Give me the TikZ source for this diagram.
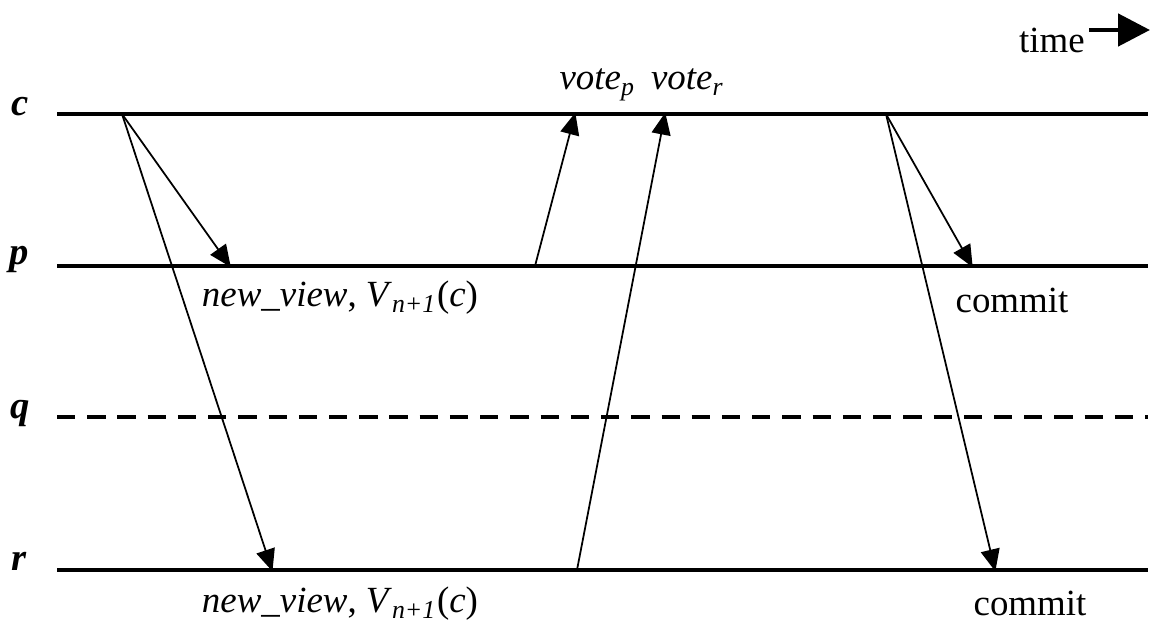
\documentclass[tikz,border=0pt]{standalone}
\usepackage{fontspec}
\setmainfont{Liberation Serif}
\usetikzlibrary{arrows.meta, positioning, calc}

\begin{document}
\begin{tikzpicture}[
    every node/.style={font=\fontsize{10.5}{12}\selectfont},
    procline/.style={line width=1.3pt},
    msg/.style={-{Triangle[length=2.2mm, width=1.9mm]}, line width=0.5pt, shorten >=-0.4pt},
    proclabel/.style={font=\fontsize{11}{13}\selectfont\bfseries\itshape, anchor=base}
  ]
    \useasboundingbox (0,0) rectangle (11.51,-6.21);

    % Process lines
    \foreach \n/\y in {c/1.14, p/2.66, r/5.70} {
      \coordinate (\n west) at (0.57,-\y);
      \coordinate (\n east) at (11.48,-\y);
      \draw[procline] (\n west) -- (\n east);
    }
    \coordinate (q west) at (0.57,-4.17);
    \coordinate (q east) at (11.48,-4.17);
    \draw[procline, dash pattern=on 5.2pt off 3.4pt] (q west) -- (q east);

    % Process names
    \node[proclabel] (lc) at (0.20,-1.16) {c};
    \node[proclabel] (lp) at (0.19,-2.65) {p};
    \node[proclabel] (lq) at (0.20,-4.19) {q};
    \node[proclabel] (lr) at (0.19,-5.71) {r};

    % Message end points
    \coordinate (c send) at (1.22,-1.14);
    \coordinate (p view) at (2.30,-2.66);
    \coordinate (r view) at (2.72,-5.70);
    \coordinate (p vote) at (5.35,-2.66);
    \coordinate (r vote) at (5.77,-5.70);
    \coordinate (c votep) at (5.75,-1.14);
    \coordinate (c voter) at (6.65,-1.14);
    \coordinate (c commit) at (8.86,-1.14);
    \coordinate (p commit) at (9.72,-2.66);
    \coordinate (r commit) at (9.95,-5.70);

    % new_view messages
    \draw[msg] (c send) -- (p view);
    \draw[msg] (c send) -- (r view);

    % votes
    \draw[msg] (p vote) -- (c votep);
    \draw[msg] (r vote) -- (c voter);

    % commit messages
    \draw[msg] (c commit) -- (p commit);
    \draw[msg] (c commit) -- (r commit);

    % Message labels
    \node (votes) at (6.42,-0.85) {\textit{vote}\textsubscript{\textit{p}}\, \textit{vote}\textsubscript{\textit{r}}};
    \node (viewp) at (3.40,-2.98) {\textit{new\_view}, \textit{V}\textsubscript{\textit{n+1}}(\textit{c})};
    \node (viewr) at (3.40,-6.04) {\textit{new\_view}, \textit{V}\textsubscript{\textit{n+1}}(\textit{c})};
    \node (commitp) at (10.12,-3.00) {commit};
    \node (commitr) at (10.30,-6.03) {commit};

    % time arrow
    \node[inner sep=1pt] (time) at (10.52,-0.40) {time};
    \coordinate (time end) at (11.50,-0.30);
    \draw[line width=1.4pt, -{Triangle[length=3.2mm, width=3.2mm]}] (time.east |- time end) -- (time end);

  \end{tikzpicture}
\end{document}
